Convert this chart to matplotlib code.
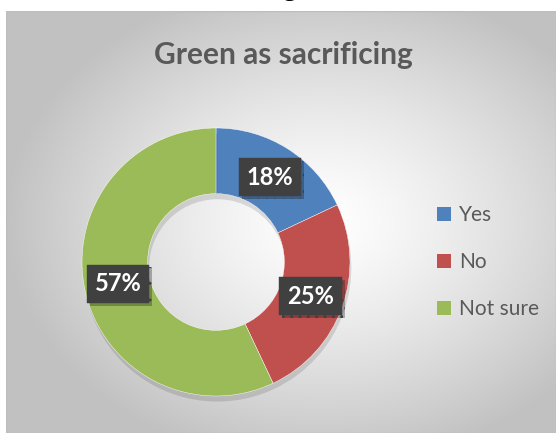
import numpy as np
import matplotlib
matplotlib.use("Agg")
import matplotlib.pyplot as plt
from matplotlib.patches import Patch, Rectangle
import matplotlib.patheffects as pe

categories = ["Yes", "No", "Not sure"]
values = [18, 25, 57]
colors = ["#4F81BD", "#C0504D", "#9BBB59"]
title = "Green as sacrificing"

W, H = 560, 441
fig = plt.figure(figsize=(W / 100, H / 100), dpi=100)
fig.patch.set_facecolor("white")

def fx(px):
    return px / W

def fy(py):
    return 1 - py / H

# chart area background with radial gradient
bx0, by0, bx1, by1 = 6, 11, 556, 433
bg = fig.add_axes([fx(bx0), fy(by1), fx(bx1 - bx0), (by1 - by0) / H])
bg.set_axis_off()
nx, ny = 400, 300
xx, yy = np.meshgrid(np.linspace(-1, 1, nx), np.linspace(-1, 1, ny))
cx, cy = 0.15, 0.0
d = np.sqrt(((xx - cx) / 1.15) ** 2 + ((yy - cy) / 1.15) ** 2)
d = np.clip(d, 0, 1)
v = 1.0 - 0.24 * d ** 1.3
img = np.dstack([v, v, v])
bg.imshow(img, extent=[0, 1, 0, 1], aspect="auto", origin="upper", interpolation="bilinear")
bg.set_xlim(0, 1)
bg.set_ylim(0, 1)
bg.add_patch(Rectangle((0, 0), 1, 1, transform=bg.transAxes, fill=False,
                       edgecolor="#bdbdbd", lw=1))

# donut
pcx, pcy, R = 216, 262, 134
ax = fig.add_axes([fx(pcx - R), fy(pcy + R), fx(2 * R), 2 * R / H])
ax.set_xlim(-1, 1)
ax.set_ylim(-1, 1)
ax.set_aspect("equal")
ax.set_axis_off()

wedges, texts, autotexts = ax.pie(
    values, colors=colors, startangle=90, counterclock=False, radius=1.0,
    wedgeprops=dict(width=0.49, edgecolor="white", linewidth=0.3),
    autopct=lambda p: f"{p:.0f}%", pctdistance=0.75,
    textprops=dict(color="white", fontsize=17, fontweight="bold", family="Lato"))
for w in wedges:
    w.set_path_effects([pe.SimplePatchShadow(offset=(1, -4), shadow_rgbFace="black", alpha=0.12), pe.Normal()])
ax.set_xlim(-1, 1)
ax.set_ylim(-1, 1)

plt.rcParams["hatch.color"] = "#555555"
for t in autotexts:
    t.set_bbox(dict(boxstyle="square,pad=0.33", facecolor="#404040", edgecolor="#404040",
                    linewidth=0.3, hatch=".."))
    t.get_bbox_patch().set_path_effects([pe.SimplePatchShadow(offset=(2, -2), alpha=0.3), pe.Normal()])

# title
fig.text(fx(283), fy(55), title, ha="center", va="center", fontsize=21.5,
         fontweight="bold", color="#595959", family="Lato")

# legend
handles = [Patch(facecolor=c, edgecolor="none") for c in colors]
leg = fig.legend(handles, categories, loc="center left",
                 bbox_to_anchor=(fx(437), fy(262)), frameon=False,
                 borderaxespad=0, borderpad=0,
                 prop=dict(family="Lato", size=15), labelcolor="#595959",
                 handlelength=0.65, handleheight=0.65, handletextpad=0.4,
                 labelspacing=1.3)

# clipped fragment of document text above chart
fig.text(fx(290), fy(-5), "g", ha="center", va="baseline", fontsize=20,
         family="Liberation Serif", color="black")

fig.savefig("out.png", dpi=100)
